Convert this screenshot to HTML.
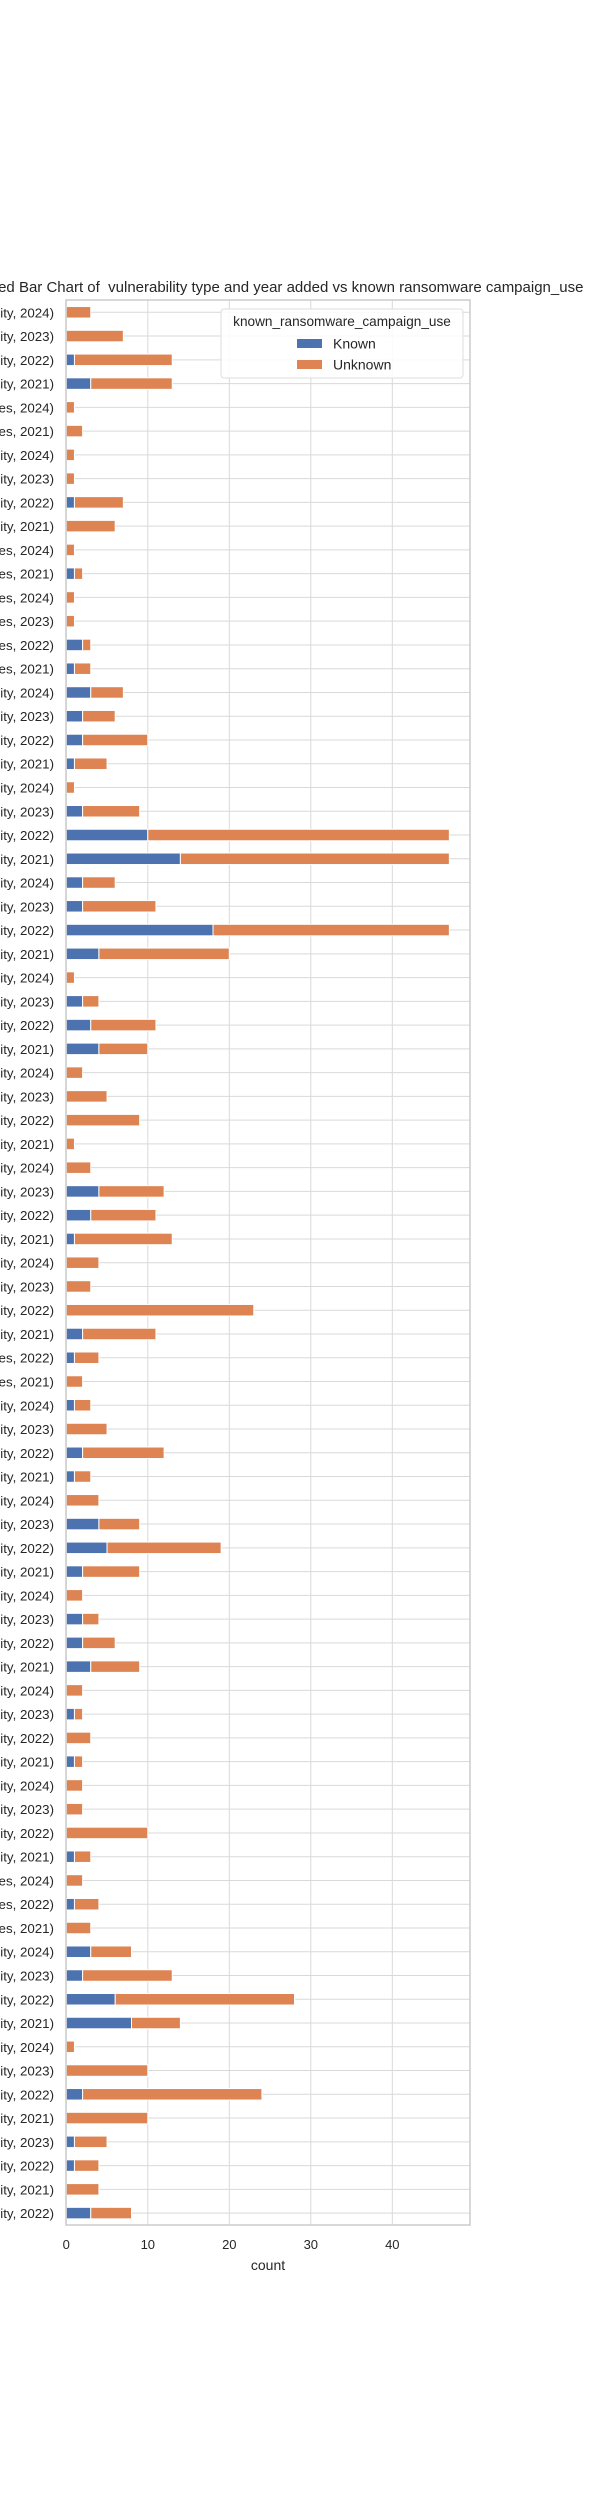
<!DOCTYPE html>
<html><head><meta charset="utf-8"><style>
html,body{margin:0;padding:0;background:#fff;}
svg{display:block;font-family:"Liberation Sans",Arial,sans-serif;}
</style></head><body>
<svg id="chart" width="600" height="2500">
<g id="grid"></g>
<g id="bars"></g>
<g id="ylabels"></g>
<g id="xticks"></g>
<rect x="66" y="300" width="404" height="1925" fill="none" stroke="#cccccc" stroke-width="1.5"/>
<text x="272" y="292" font-size="15" text-anchor="middle" fill="#262626" xml:space="preserve">Stacked Bar Chart of  vulnerability type and year added vs known ransomware campaign_use</text>
<text x="268" y="2270" font-size="14" text-anchor="middle" fill="#262626">count</text>
<g>
<rect x="221" y="309" width="242" height="69" rx="3" fill="#fff" fill-opacity="0.85" stroke="#dddddd"/>
<text x="342" y="326" font-size="13.6" text-anchor="middle" fill="#262626">known_ransomware_campaign_use</text>
<rect x="297" y="339" width="25" height="9" fill="#4c72b0"/>
<text x="333" y="348.5" font-size="14" fill="#262626">Known</text>
<rect x="297" y="360" width="25" height="9" fill="#dd8452"/>
<text x="333" y="369.5" font-size="14" fill="#262626">Unknown</text>
</g>
</svg>
<script>
const years=[2024,2023,2022,2021,2024,2021,2024,2023,2022,2021,2024,2021,2024,2023,2022,2021,2024,2023,2022,2021,2024,2023,2022,2021,2024,2023,2022,2021,2024,2023,2022,2021,2024,2023,2022,2021,2024,2023,2022,2021,2024,2023,2022,2021,2022,2021,2024,2023,2022,2021,2024,2023,2022,2021,2024,2023,2022,2021,2024,2023,2022,2021,2024,2023,2022,2021,2024,2022,2021,2024,2023,2022,2021,2024,2023,2022,2021,2023,2022,2021,2022];
const plural=[0,0,0,0,1,1,0,0,0,0,1,1,1,1,1,1,0,0,0,0,0,0,0,0,0,0,0,0,0,0,0,0,0,0,0,0,0,0,0,0,0,0,0,0,1,1,0,0,0,0,0,0,0,0,0,0,0,0,0,0,0,0,0,0,0,0,1,1,1,0,0,0,0,0,0,0,0,0,0,0,0];
const known=[0,0,1,3,0,0,0,0,1,0,0,1,0,0,2,1,3,2,2,1,0,2,10,14,2,2,18,4,0,2,3,4,0,0,0,0,0,4,3,1,0,0,0,2,1,0,1,0,2,1,0,4,5,2,0,2,2,3,0,1,0,1,0,0,0,1,0,1,0,3,2,6,8,0,0,2,0,1,1,0,3];
const unknown=[3,7,12,10,1,2,1,1,6,6,1,1,1,1,1,2,4,4,8,4,1,7,37,33,4,9,29,16,1,2,8,6,2,5,9,1,3,8,8,12,4,3,23,9,3,2,2,5,10,2,4,5,14,7,2,2,4,6,2,1,3,1,2,2,10,2,2,3,3,5,11,22,6,1,10,22,10,4,3,4,5];
const xTicks=[0,10,20,30,40];
const NS="http://www.w3.org/2000/svg";
const X0=66.3,PX=8.15,Y0=312.3,DY=23.76,BH=11.5;
const xs=v=>X0+v*PX, ys=i=>Y0+i*DY;
const grid=document.getElementById('grid'),bars=document.getElementById('bars'),yl=document.getElementById('ylabels'),xt=document.getElementById('xticks');
function mk(t,a){const e=document.createElementNS(NS,t);for(const k in a)e.setAttribute(k,a[k]);return e;}
xTicks.forEach(v=>{
 const l=mk('line',{x1:xs(v),x2:xs(v),y1:300,y2:2225,stroke:'#d9d9d9','stroke-width':1});
 
 
 grid.appendChild(l);
 const t=mk('text',{x:xs(v),y:2249,'font-size':13,'text-anchor':'middle',fill:'#262626'});
 t.textContent=v;
 
 
 xt.appendChild(t);
});
years.forEach((yr,i)=>{
 const y=ys(i);
 const g=mk('line',{x1:66,x2:470,y1:y,y2:y,stroke:'#d9d9d9','stroke-width':1});
 
 
 grid.appendChild(g);
 const t=mk('text',{x:54,y:y+5,'font-size':13.3,'text-anchor':'end',fill:'#262626'});
 t.textContent=plural[i]?`(Multiple Vulnerabilities, ${yr})`:`(Remote Code Execution Vulnerability, ${yr})`;
 
 
 yl.appendChild(t);
 if(known[i]>0){
  const r=mk('rect',{x:xs(0),y:y-BH/2,width:xs(known[i])-xs(0),height:BH,fill:'#4c72b0',stroke:'#fff','stroke-width':1});
  
  
  bars.appendChild(r);
 }
 if(unknown[i]>0){
  const r=mk('rect',{x:xs(known[i]),y:y-BH/2,width:xs(known[i]+unknown[i])-xs(known[i]),height:BH,fill:'#dd8452',stroke:'#fff','stroke-width':1});
  
  
  bars.appendChild(r);
 }
});
</script>
</body></html>
